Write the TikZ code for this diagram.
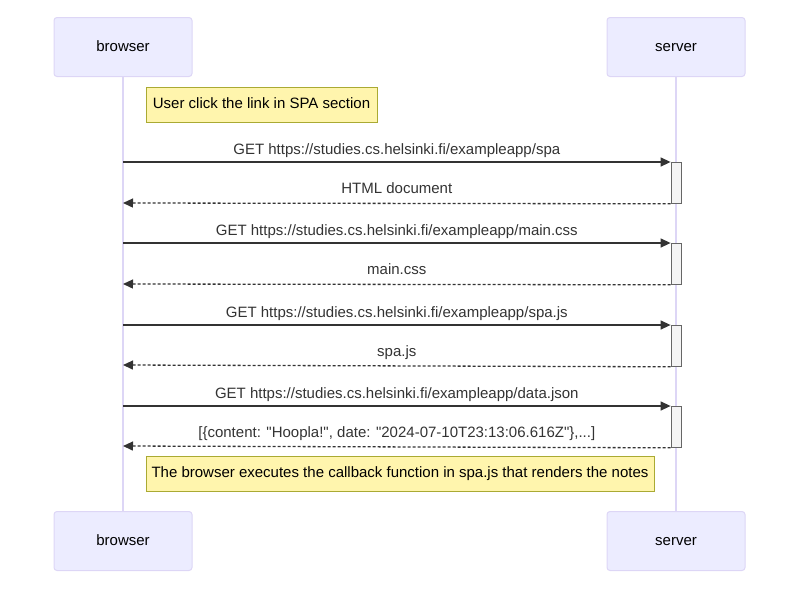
\documentclass[tikz,border=0pt]{standalone}
\usepackage{fontspec}
\setmainfont{Liberation Sans}
\usetikzlibrary{arrows.meta, positioning}

\definecolor{actorFill}{HTML}{ECECFF}
\definecolor{actorLine}{HTML}{DDD6F6}
\definecolor{noteFill}{HTML}{FFF5AD}
\definecolor{noteLine}{HTML}{AAAA33}
\definecolor{msgLine}{HTML}{333333}
\definecolor{actFill}{HTML}{F4F4F4}
\definecolor{actLine}{HTML}{666666}

\begin{document}
\begin{tikzpicture}[
        x=1pt, y=-1pt,
        font=\fontsize{15}{18}\selectfont,
        actorNode/.style={rectangle, draw=actorLine, fill=actorFill, line width=1pt, rounded corners=3pt, minimum width=138pt, minimum height=59pt, text height=11pt, text depth=3pt},
        noteNode/.style={rectangle, draw=noteLine, fill=noteFill, line width=0.8pt, minimum height=35pt, inner sep=1pt, text height=11pt, text depth=3pt},
        actNode/.style={rectangle, draw=actLine, fill=actFill, line width=0.8pt, anchor=north, inner sep=0pt, minimum width=10pt, minimum height=41pt},
        lifeline/.style={draw=actorLine, line width=1.4pt},
        request/.style={draw=msgLine, line width=1.3pt, -{Triangle[length=10pt, width=9pt]}},
        response/.style={request, dash pattern=on 3pt off 2pt},
        msgLabel/.style={text=msgLine, midway, above=3pt, inner sep=1pt, text height=11pt, text depth=3pt}
    ]
        \useasboundingbox (0,0) rectangle (800,600);

        \node[actorNode] (browserTop) at (123,47) {browser};
        \node[actorNode] (serverTop) at (676,47) {server};
        \node[actorNode] (browserBottom) at (123,541) {browser};
        \node[actorNode] (serverBottom) at (676,541) {server};

        \draw[lifeline] (browserTop) -- (browserBottom);
        \draw[lifeline] (serverTop) -- (serverBottom);

        \node[noteNode, minimum width=231pt] (clickNote) at (261.5,104.5) {User click the link in SPA section};

        % activations on the server
        \node[actNode] (actSpa) at (676,162) {};
        \node[actNode] (actCss) at (676,243) {};
        \node[actNode] (actJs) at (676,325) {};
        \node[actNode] (actJson) at (676,406) {};

        \coordinate (getSpa) at (123,162);
        \coordinate (gotSpa) at (123,203);
        \coordinate (getCss) at (123,243);
        \coordinate (gotCss) at (123,284);
        \coordinate (getJs) at (123,325);
        \coordinate (gotJs) at (123,365);
        \coordinate (getJson) at (123,406);
        \coordinate (gotJson) at (123,446);

        \draw[request] (getSpa) -- node[msgLabel] {GET https://studies.cs.helsinki.fi/exampleapp/spa} (actSpa.north west);
        \draw[response] (actSpa.south west) -- node[msgLabel, above=5pt] {HTML document} (gotSpa);
        \draw[request] (getCss) -- node[msgLabel] {GET https://studies.cs.helsinki.fi/exampleapp/main.css} (actCss.north west);
        \draw[response] (actCss.south west) -- node[msgLabel, above=5pt] {main.css} (gotCss);
        \draw[request] (getJs) -- node[msgLabel] {GET https://studies.cs.helsinki.fi/exampleapp/spa.js} (actJs.north west);
        \draw[response] (actJs.south west) -- node[msgLabel, above=5pt] {spa.js} (gotJs);
        \draw[request] (getJson) -- node[msgLabel] {GET https://studies.cs.helsinki.fi/exampleapp/data.json} (actJson.north west);
        \draw[response] (actJson.south west) -- node[msgLabel, above=5pt] {[\{content: \textquotedbl Hoopla!\textquotedbl, date: \textquotedbl 2024-07-10T23:13:06.616Z\textquotedbl\},...]} (gotJson);

        \node[noteNode, minimum width=508pt] (callbackNote) at (400,473.5) {The browser executes the callback function in spa.js that renders the notes};
    \end{tikzpicture}
\end{document}
